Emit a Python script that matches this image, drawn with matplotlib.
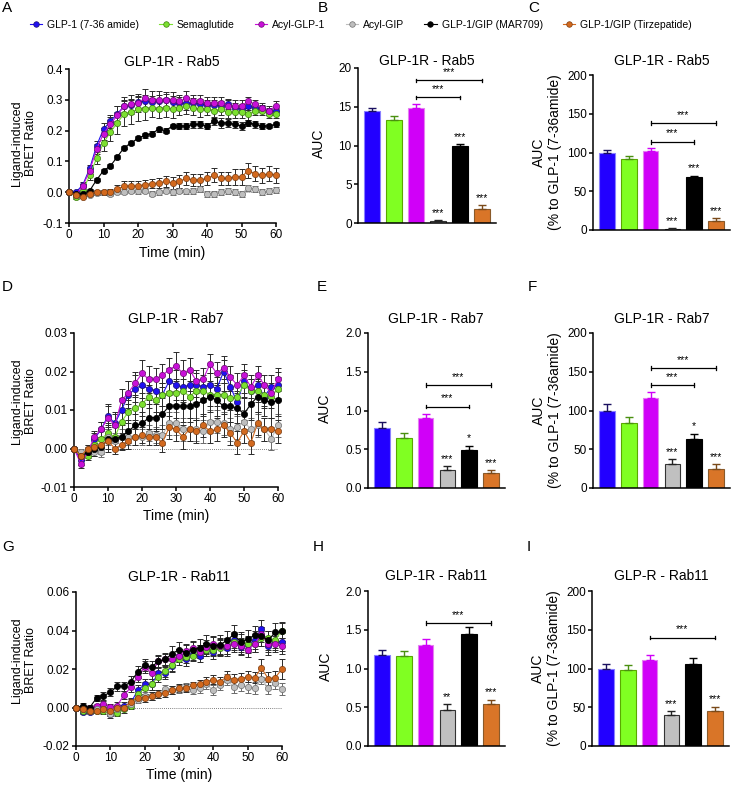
import matplotlib
matplotlib.use("Agg")
import matplotlib.pyplot as plt
from matplotlib.lines import Line2D
import numpy as np

plt.rcParams['font.family'] = ['Liberation Sans', 'DejaVu Sans']
plt.rcParams['axes.unicode_minus'] = False

W, H = 731, 785

# ---------------- data ----------------
series_names = ["GLP-1 (7-36 amide)", "Semaglutide", "Acyl-GLP-1", "Acyl-GIP",
                "GLP-1/GIP (MAR709)", "GLP-1/GIP (Tirzepatide)"]
time_min = [0, 2, 4, 6, 8, 10, 12, 14, 16, 18, 20, 22, 24, 26, 28, 30,
            32, 34, 36, 38, 40, 42, 44, 46, 48, 50, 52, 54, 56, 58, 60]

# Panel A (Rab5 kinetics)
A_blue = [0.0,0.0,0.024,0.077,0.151,0.205,0.23,0.255,0.279,0.283,0.292,0.296,0.293,0.296,0.30,0.293,0.29,0.288,0.29,0.286,0.283,0.283,0.28,0.286,0.274,0.271,0.28,0.274,0.272,0.263,0.263]
A_green = [0.0,-0.015,0.005,0.055,0.11,0.16,0.195,0.225,0.255,0.26,0.27,0.27,0.275,0.27,0.275,0.27,0.275,0.28,0.275,0.27,0.27,0.265,0.27,0.26,0.26,0.26,0.255,0.265,0.265,0.255,0.255]
A_magenta = [0.0,-0.008,0.02,0.07,0.14,0.19,0.22,0.25,0.28,0.285,0.29,0.305,0.30,0.30,0.30,0.30,0.295,0.305,0.295,0.295,0.29,0.29,0.29,0.28,0.28,0.28,0.295,0.285,0.275,0.265,0.28]
A_gray = [0.0,-0.01,-0.005,-0.008,-0.002,0.0,-0.005,0.0,0.002,0.005,0.003,0.005,-0.005,0.0,0.005,0.0,0.005,0.003,0.005,0.01,-0.005,-0.005,0.002,0.005,0.002,-0.005,0.015,0.01,0.0,0.005,0.008]
A_black = [0.0,-0.005,-0.005,0.005,0.04,0.07,0.085,0.115,0.145,0.16,0.175,0.185,0.19,0.205,0.20,0.215,0.215,0.215,0.22,0.22,0.215,0.23,0.225,0.225,0.22,0.215,0.225,0.22,0.215,0.215,0.22]
A_orange = [0.0,-0.01,-0.015,-0.005,0.0,0.0,0.0,0.01,0.02,0.02,0.02,0.025,0.028,0.03,0.035,0.03,0.035,0.045,0.04,0.04,0.045,0.055,0.045,0.045,0.05,0.05,0.07,0.06,0.055,0.06,0.055]
A_blue_e = [0,0.005,0.008,0.012,0.015,0.02,0.02,0.025,0.02,0.02,0.02,0.02,0.02,0.02,0.02,0.02,0.02,0.02,0.015,0.015,0.015,0.015,0.015,0.015,0.015,0.015,0.012,0.012,0.012,0.012,0.012]
A_green_e = [0,0.008,0.01,0.015,0.02,0.025,0.03,0.035,0.04,0.04,0.04,0.035,0.03,0.03,0.03,0.03,0.025,0.025,0.025,0.025,0.02,0.02,0.02,0.02,0.02,0.02,0.02,0.015,0.015,0.015,0.015]
A_magenta_e = [0,0.005,0.008,0.01,0.015,0.02,0.025,0.03,0.03,0.03,0.03,0.03,0.03,0.03,0.025,0.025,0.02,0.025,0.02,0.02,0.02,0.02,0.02,0.02,0.02,0.02,0.015,0.015,0.015,0.015,0.015]
A_gray_e = [0,0.005,0.005,0.005,0.006,0.006,0.006,0.006,0.008,0.008,0.008,0.008,0.008,0.008,0.008,0.008,0.008,0.008,0.01,0.01,0.01,0.01,0.01,0.01,0.01,0.01,0.01,0.01,0.01,0.01,0.01]
A_black_e = [0,0.004,0.004,0.005,0.005,0.006,0.006,0.006,0.006,0.006,0.006,0.008,0.008,0.008,0.008,0.008,0.01,0.01,0.01,0.01,0.01,0.012,0.015,0.012,0.012,0.012,0.01,0.01,0.01,0.008,0.008]
A_orange_e = [0,0.005,0.005,0.006,0.008,0.008,0.01,0.012,0.015,0.015,0.015,0.015,0.015,0.015,0.018,0.02,0.02,0.02,0.02,0.02,0.022,0.022,0.022,0.022,0.025,0.025,0.025,0.025,0.025,0.025,0.025]

# Panel D (Rab7 kinetics)
D_blue = [0,-0.003,-0.001,0.0025,0.005,0.0085,0.0065,0.010,0.014,0.0155,0.0165,0.0155,0.015,0.014,0.0175,0.0165,0.016,0.0165,0.0165,0.016,0.0165,0.0155,0.020,0.016,0.012,0.0175,0.015,0.0165,0.0135,0.016,0.0165]
D_green = [0,-0.002,-0.002,0.001,0.0025,0.004,0.003,0.007,0.0095,0.0105,0.0115,0.0135,0.0125,0.014,0.0145,0.0145,0.015,0.0135,0.015,0.015,0.014,0.014,0.014,0.013,0.0135,0.0165,0.015,0.015,0.014,0.0135,0.0155]
D_magenta = [0,-0.004,-0.001,0.003,0.005,0.008,0.006,0.0125,0.0145,0.017,0.0195,0.018,0.018,0.019,0.0205,0.0215,0.0195,0.0205,0.0175,0.018,0.022,0.0195,0.021,0.0185,0.0165,0.019,0.016,0.019,0.0165,0.0145,0.018]
D_gray = [0,-0.001,0.0,-0.001,-0.0008,0.003,0.002,0.003,0.003,0.003,0.003,0.004,0.0035,0.0035,0.0065,0.0065,0.005,0.005,0.005,0.0045,0.007,0.007,0.0065,0.005,0.0055,0.007,0.005,0.006,0.005,0.0025,0.006]
D_black = [0,-0.002,-0.001,0.0,0.0005,0.0025,0.0025,0.003,0.0045,0.006,0.0065,0.008,0.008,0.009,0.011,0.011,0.011,0.011,0.0115,0.0125,0.0135,0.0125,0.011,0.011,0.0105,0.009,0.0115,0.0135,0.0125,0.012,0.0125]
D_orange = [0,-0.002,0.0,0.0005,0.001,0.002,0.0,0.001,0.002,0.003,0.0035,0.003,0.003,0.0015,0.0055,0.005,0.003,0.005,0.0045,0.006,0.0045,0.005,0.006,0.004,0.0015,0.0045,0.0015,0.0065,0.005,0.005,0.0045]
D_blue_e = [0,0.0012,0.001,0.0015,0.002,0.003,0.003,0.003,0.0035,0.0035,0.0035,0.003,0.003,0.003,0.0035,0.004,0.0035,0.0035,0.003,0.003,0.003,0.003,0.003,0.003,0.003,0.003,0.003,0.003,0.003,0.003,0.0035]
D_green_e = [0,0.001,0.001,0.0015,0.002,0.0025,0.0025,0.003,0.003,0.003,0.003,0.003,0.003,0.003,0.003,0.003,0.003,0.003,0.003,0.003,0.003,0.003,0.003,0.003,0.003,0.003,0.003,0.003,0.003,0.003,0.003]
D_magenta_e = [0,0.001,0.001,0.0015,0.002,0.003,0.003,0.003,0.003,0.003,0.0035,0.0035,0.003,0.003,0.003,0.0035,0.0035,0.003,0.003,0.003,0.0025,0.003,0.003,0.003,0.003,0.003,0.003,0.0025,0.0025,0.0025,0.003]
D_gray_e = [0,0.001,0.001,0.001,0.0015,0.002,0.002,0.002,0.002,0.002,0.002,0.002,0.002,0.0025,0.003,0.003,0.003,0.003,0.003,0.003,0.003,0.003,0.003,0.003,0.003,0.003,0.003,0.003,0.003,0.003,0.003]
D_black_e = [0,0.001,0.0015,0.002,0.002,0.0035,0.003,0.003,0.003,0.003,0.003,0.0035,0.0035,0.004,0.004,0.004,0.004,0.004,0.004,0.004,0.004,0.004,0.004,0.004,0.004,0.004,0.004,0.004,0.004,0.004,0.004]
D_orange_e = [0,0.001,0.001,0.001,0.0015,0.002,0.0015,0.0015,0.002,0.002,0.002,0.002,0.002,0.0025,0.003,0.003,0.003,0.003,0.003,0.003,0.003,0.003,0.003,0.003,0.003,0.003,0.003,0.003,0.003,0.003,0.003]

# Panel G (Rab11 kinetics)
G_blue = [0,-0.0025,-0.0025,-0.0005,0.0,-0.0035,-0.002,0.0008,0.0025,0.009,0.012,0.012,0.018,0.018,0.0215,0.027,0.025,0.028,0.027,0.030,0.029,0.0315,0.031,0.035,0.0315,0.0325,0.035,0.041,0.032,0.0345,0.034]
G_green = [0,-0.002,-0.002,-0.002,-0.002,-0.003,-0.003,-0.001,0.001,0.007,0.01,0.012,0.016,0.019,0.022,0.025,0.026,0.027,0.029,0.030,0.030,0.031,0.032,0.034,0.034,0.033,0.033,0.036,0.036,0.035,0.040]
G_magenta = [0,-0.001,0.0,0.001,0.002,0.0005,0.001,0.0065,0.0105,0.016,0.021,0.018,0.024,0.025,0.025,0.027,0.0295,0.031,0.029,0.0315,0.033,0.032,0.032,0.033,0.032,0.030,0.033,0.038,0.033,0.033,0.032]
G_gray = [0,-0.001,-0.002,-0.001,-0.001,-0.0035,-0.001,0.0,0.002,0.004,0.006,0.006,0.007,0.0095,0.009,0.0095,0.0105,0.009,0.010,0.012,0.009,0.0115,0.0145,0.0105,0.0115,0.0105,0.010,0.015,0.010,0.0125,0.0095]
G_black = [0,0.001,0.0,0.005,0.006,0.008,0.011,0.011,0.0135,0.0185,0.022,0.021,0.024,0.025,0.028,0.030,0.0285,0.030,0.031,0.033,0.032,0.0325,0.035,0.038,0.034,0.0355,0.0375,0.037,0.035,0.039,0.0395]
G_orange = [0,-0.001,-0.002,-0.002,-0.001,-0.002,0.0,0.0,0.003,0.005,0.005,0.006,0.007,0.0075,0.009,0.010,0.010,0.0115,0.012,0.0135,0.0145,0.0135,0.016,0.0145,0.015,0.016,0.0155,0.0205,0.015,0.0155,0.020]
G_blue_e = [0,0.001,0.001,0.001,0.0015,0.002,0.002,0.002,0.0025,0.0025,0.003,0.003,0.003,0.003,0.003,0.0035,0.0035,0.0035,0.0035,0.0035,0.004,0.004,0.004,0.004,0.004,0.004,0.0045,0.0045,0.0045,0.0045,0.0045]
G_green_e = [0,0.001,0.001,0.001,0.0015,0.0015,0.0015,0.002,0.002,0.0025,0.003,0.003,0.003,0.003,0.003,0.003,0.003,0.003,0.0035,0.0035,0.0035,0.004,0.004,0.004,0.004,0.004,0.004,0.004,0.004,0.004,0.004]
G_magenta_e = [0,0.001,0.001,0.001,0.0015,0.0015,0.002,0.002,0.0025,0.0025,0.003,0.003,0.003,0.003,0.003,0.0035,0.0035,0.0035,0.0035,0.0035,0.004,0.004,0.004,0.004,0.004,0.004,0.004,0.004,0.004,0.004,0.004]
G_gray_e = [0,0.001,0.001,0.001,0.001,0.001,0.0015,0.0015,0.0015,0.0015,0.002,0.002,0.002,0.002,0.002,0.002,0.002,0.002,0.0025,0.0025,0.0025,0.0025,0.003,0.003,0.003,0.003,0.003,0.003,0.003,0.003,0.003]
G_black_e = [0,0.0015,0.0015,0.0015,0.002,0.002,0.0025,0.0025,0.003,0.003,0.003,0.003,0.0035,0.0035,0.004,0.004,0.004,0.004,0.0045,0.0045,0.0045,0.005,0.005,0.005,0.005,0.005,0.005,0.005,0.005,0.005,0.005]
G_orange_e = [0,0.001,0.001,0.001,0.001,0.001,0.0015,0.0015,0.0015,0.0015,0.002,0.002,0.002,0.002,0.002,0.002,0.002,0.002,0.0025,0.0025,0.0025,0.0025,0.003,0.003,0.003,0.003,0.003,0.0045,0.0035,0.0035,0.005]

# Bar panels (AUC)
B_auc = [14.4, 13.3, 14.8, 0.2, 9.9, 1.85]
B_err = [0.45, 0.5, 0.5, 0.15, 0.25, 0.45]
C_pct = [100, 91.5, 101.5, 1.5, 68.4, 12]
C_err = [3.5, 3.5, 4, 0.8, 1.5, 3]
E_auc = [0.78, 0.65, 0.90, 0.236, 0.485, 0.19]
E_err = [0.075, 0.06, 0.06, 0.045, 0.06, 0.04]
F_pct = [100, 83.5, 115.7, 31, 62.8, 24]
F_err = [9, 8, 8, 6, 7.5, 6.5]
H_auc = [1.17, 1.16, 1.30, 0.47, 1.45, 0.54]
H_err = [0.07, 0.07, 0.08, 0.07, 0.08, 0.06]
I_pct = [99.5, 98.5, 111.4, 40, 105.4, 45.6]
I_err = [6, 6, 6.6, 5, 7.6, 5.2]

B_stars = ["", "", "", "***", "***", "***"]
E_stars = ["", "", "", "***", "*", "***"]
H_stars = ["", "", "", "**", "", "***"]
I_stars = ["", "", "", "***", "", "***"]

# brackets: (from bar, to bar, level)
B_brackets = [(2, 4, 16.2), (2, 5, 18.4)]
C_brackets = [(2, 4, 114), (2, 5, 138)]
E_brackets = [(2, 4, 1.05), (2, 5, 1.33)]
F_brackets = [(2, 4, 133), (2, 5, 155)]
H_brackets = [(2, 5, 1.59)]
I_brackets = [(2, 5, 140)]

# ---------------- styles ----------------
line_col = ['#2010F0', '#7CE030', '#C810D8', '#BEBEBE', '#000000', '#D2691E']
mk_edge = ['#1a1070', '#3c7a10', '#6a0a70', '#707070', '#000000', '#7a3c10']
bar_col = ['#2200FF', '#80FF22', '#D000F8', '#C0C0C0', '#000000', '#D97528']
bar_edge = ['#8a80ff', '#5aa800', '#e480f0', '#333333', '#000000', '#8a5a2a']
err_col = ['#1a1060', '#4a9010', '#D000F8', '#222222', '#000000', '#7a4a1a']
plot_order = [5, 3, 4, 1, 2, 0]

fig = plt.figure(figsize=(W / 100, H / 100), dpi=100)


def rect(l, r, t, b):
    return [l / W, 1 - b / H, (r - l) / W, (b - t) / H]


def ftext(x, y, s, **kw):
    fig.text(x / W, 1 - y / H, s, **kw)


def style_axes(ax):
    for s in ['top', 'right']:
        ax.spines[s].set_visible(False)
    for s in ['left', 'bottom']:
        ax.spines[s].set_linewidth(1.1)
    ax.tick_params(axis='both', direction='out', length=3, width=1.1,
                   labelsize=8.5, pad=1.5)


def line_panel(r, ys, es, ylim, yticks, fmt):
    ax = fig.add_axes(rect(*r))
    style_axes(ax)
    ax.plot([0, 60], [0, 0], ls=(0, (1, 1.5)), color='#555555', lw=0.6, zorder=1)
    for i in plot_order:
        ax.errorbar(time_min, ys[i], yerr=es[i], fmt='none',
                    ecolor='#6a6a6a' if i == 3 else '#2a2a2a',
                    elinewidth=0.7, capsize=2.2, capthick=0.7, zorder=2 + i * 0.1,
                    clip_on=False)
        ax.plot(time_min, ys[i], '-', color=line_col[i], lw=0.8, marker='o',
                ms=4.5, mfc=line_col[i], mec=mk_edge[i], mew=0.5,
                zorder=3 + i * 0.1, clip_on=False)
    ax.set_xlim(0, 60)
    ax.set_ylim(*ylim)
    ax.set_xticks([0, 10, 20, 30, 40, 50, 60])
    ax.set_yticks(yticks)
    ax.set_yticklabels([fmt % v for v in yticks])
    return ax


def bar_panel(r, vals, errs, stars, brackets, ylim, yticks, fmt):
    ax = fig.add_axes(rect(*r))
    style_axes(ax)
    x = np.arange(len(vals))
    ax.bar(x, vals, width=0.72, color=bar_col, edgecolor=bar_edge,
           linewidth=0.8, zorder=2)
    rng = ylim[1] - ylim[0]
    for i in range(len(vals)):
        ax.errorbar(x[i], vals[i], yerr=[[0], [errs[i]]], fmt='none',
                    ecolor=err_col[i], elinewidth=1.0, capsize=3, capthick=1.0,
                    zorder=3)
        if stars[i]:
            ax.text(x[i], vals[i] + errs[i] + 0.015 * rng, stars[i],
                    ha='center', va='bottom', fontsize=7.5)
    for (a, b, lev) in brackets:
        d = 0.012 * rng
        ax.plot([a, b], [lev, lev], color='black', lw=0.9, clip_on=False)
        ax.plot([a, a], [lev - d, lev + d], color='black', lw=0.9, clip_on=False)
        ax.plot([b, b], [lev - d, lev + d], color='black', lw=0.9, clip_on=False)
        ax.text((a + b) / 2, lev + 0.02 * rng, '***', ha='center',
                va='bottom', fontsize=7.5)
    ax.set_xlim(-0.65, 5.65)
    ax.set_ylim(*ylim)
    ax.set_xticks([])
    ax.set_yticks(yticks)
    ax.set_yticklabels([fmt % v for v in yticks])
    return ax


# ---------------- panels ----------------
A_y = [A_blue, A_green, A_magenta, A_gray, A_black, A_orange]
A_e = [A_blue_e, A_green_e, A_magenta_e, A_gray_e, A_black_e, A_orange_e]
D_y = [D_blue, D_green, D_magenta, D_gray, D_black, D_orange]
D_e = [D_blue_e, D_green_e, D_magenta_e, D_gray_e, D_black_e, D_orange_e]
G_y = [G_blue, G_green, G_magenta, G_gray, G_black, G_orange]
G_e = [G_blue_e, G_green_e, G_magenta_e, G_gray_e, G_black_e, G_orange_e]

axA = line_panel((69, 276, 69, 223), A_y, A_e, (-0.1, 0.4),
                 [-0.1, 0.0, 0.1, 0.2, 0.3, 0.4], '%.1f')
axD = line_panel((74, 278, 333, 487), D_y, D_e, (-0.01, 0.03),
                 [-0.01, 0.0, 0.01, 0.02, 0.03], '%.2f')
axG = line_panel((76, 282, 592, 746), G_y, G_e, (-0.02, 0.06),
                 [-0.02, 0.0, 0.02, 0.04, 0.06], '%.2f')

axB = bar_panel((358, 496, 68, 223), B_auc, B_err, B_stars, B_brackets,
                (0, 20), [0, 5, 10, 15, 20], '%d')
axC = bar_panel((593, 730, 75, 230), C_pct, C_err, B_stars, C_brackets,
                (0, 200), [0, 50, 100, 150, 200], '%d')
axE = bar_panel((368, 505, 333, 488), E_auc, E_err, E_stars, E_brackets,
                (0, 2.0), [0.0, 0.5, 1.0, 1.5, 2.0], '%.1f')
axF = bar_panel((593, 730, 333, 488), F_pct, F_err, E_stars, F_brackets,
                (0, 200), [0, 50, 100, 150, 200], '%d')
axH = bar_panel((368, 505, 591, 746), H_auc, H_err, H_stars, H_brackets,
                (0, 2.0), [0.0, 0.5, 1.0, 1.5, 2.0], '%.1f')
axI = bar_panel((592, 729, 591, 746), I_pct, I_err, I_stars, I_brackets,
                (0, 200), [0, 50, 100, 150, 200], '%d')

# titles
for (x, y, s) in [(172, 62, "GLP-1R - Rab5"), (427, 61, "GLP-1R - Rab5"),
                  (662, 61, "GLP-1R - Rab5"),
                  (176, 319, "GLP-1R - Rab7"), (436, 319, "GLP-1R - Rab7"),
                  (662, 319, "GLP-1R - Rab7"),
                  (179, 577, "GLP-1R - Rab11"), (436, 576, "GLP-1R - Rab11"),
                  (661, 576, "GLP-R - Rab11")]:
    ftext(x, y, s, ha='center', va='center', fontsize=10)

# axis labels
for (x, y) in [(172, 253), (176, 516), (179, 775)]:
    ftext(x, y, "Time (min)", ha='center', va='center', fontsize=10)
for (x, y) in [(24, 143), (24, 401), (24, 660)]:
    ftext(x, y, "Ligand-induced\nBRET Ratio", ha='center', va='center',
          rotation=90, fontsize=9, linespacing=1.2)
for (x, y) in [(319, 143), (325, 408), (326, 666)]:
    ftext(x, y, "AUC", ha='center', va='center', rotation=90, fontsize=10)
for (x, y) in [(547, 152), (547, 410), (546, 668)]:
    ftext(x, y, "AUC\n(% to GLP-1 (7-36amide)", ha='center', va='center',
          rotation=90, fontsize=10, linespacing=1.25)

# panel letters
for (x, y, s) in [(2, 8, 'A'), (318, 8, 'B'), (528, 8, 'C'),
                  (2, 287, 'D'), (317, 287, 'E'), (528, 287, 'F'),
                  (2, 547, 'G'), (313, 547, 'H'), (527, 547, 'I')]:
    ftext(x, y, s, ha='left', va='center', fontsize=11)

# legend
handles = [Line2D([0], [0], color=line_col[i], lw=0.8, marker='o', ms=4,
                  mfc=line_col[i], mec=mk_edge[i], mew=0.5) for i in range(6)]
fig.legend(handles, series_names, loc='center', bbox_to_anchor=(361 / W, 1 - 25 / H),
           ncol=6, frameon=False, fontsize=7.5, handlelength=1.2,
           handletextpad=0.5, columnspacing=1.9, borderaxespad=0,
           borderpad=0)

fig.savefig('out.png', dpi=100)
